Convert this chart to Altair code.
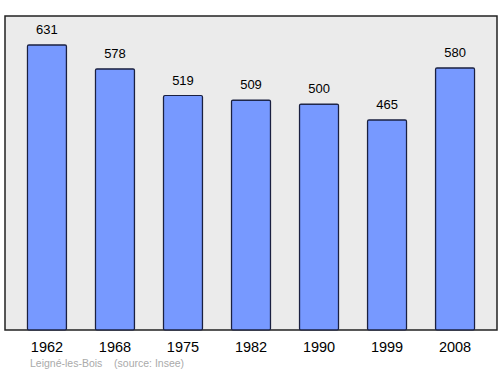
import altair as alt
import pandas as pd

years = ["1962", "1968", "1975", "1982", "1990", "1999", "2008"]
population = [631, 578, 519, 509, 500, 465, 580]
source_note = "Leigné-les-Bois\u00a0\u00a0\u00a0\u00a0(source: Insee)"

df = pd.DataFrame({"year": years, "pop": population})

W, H = 492, 314
FONT = "Liberation Sans"

xenc = alt.X("year:N", sort=years,
             scale=alt.Scale(paddingInner=0.426, paddingOuter=0.33),
             axis=alt.Axis(title=None, labelAngle=0, ticks=False, domain=False,
                           labelFontSize=14.5, labelColor="#000000", labelPadding=10,
                           labelFont=FONT))
yenc = alt.Y("pop:Q", scale=alt.Scale(domain=[0, 695], nice=False, zero=True),
             axis=None)

base = alt.Chart(df).encode(x=xenc, y=yenc)

bars = base.mark_bar(color="#7799ff", stroke="#1a2040", strokeWidth=1.2,
                     cornerRadius=1.5)
labels = base.mark_text(dy=-8, baseline="bottom", fontSize=13, color="#000000",
                        font=FONT).encode(text="pop:Q")

note = alt.Chart(pd.DataFrame({"t": [source_note]})).mark_text(
    align="left", baseline="middle", fontSize=10.5, color="#aaaaaa",
    font=FONT, clip=False
).encode(text="t:N", x=alt.value(25), y=alt.value(H + 34))

chart = alt.layer(bars, labels, note).properties(
    width=W, height=H,
    padding={"left": 5, "top": 16, "right": 3, "bottom": 44},
    autosize=alt.AutoSizeParams(type="none"),
    background="#ffffff",
).configure_view(
    fill="#ebebeb", stroke="#222222", strokeWidth=1.5
)

chart.save("out.html", embed_options={"renderer": "svg", "actions": False})
